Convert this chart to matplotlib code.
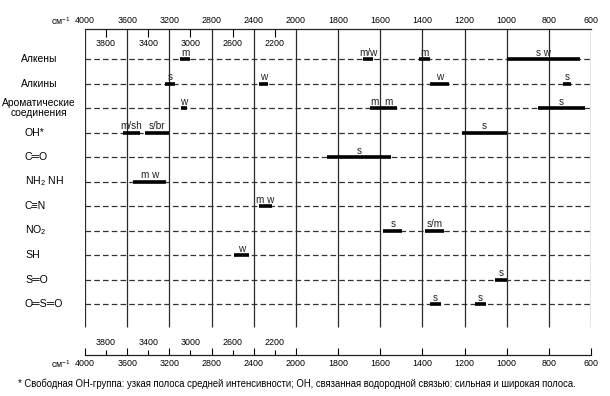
import numpy as np
import matplotlib
matplotlib.use("Agg")
import matplotlib.pyplot as plt
from matplotlib.transforms import blended_transform_factory

plt.rcParams['font.family'] = ['Liberation Sans', 'DejaVu Sans']
plt.rcParams['mathtext.fontset'] = 'custom'
plt.rcParams['mathtext.rm'] = 'Liberation Sans'
plt.rcParams['mathtext.it'] = 'Liberation Sans:italic'

# группы
groups = ["Алкены", "Алкины", "Ароматические\nсоединения", "OH*", "C═O",
          "NH$_2$ NH", "C≡N", "NO$_2$", "SH", "S═O", "O═S═O"]

# полосы поглощения: строка, начало, конец (см-1), интенсивность
band_row = [0, 0, 0, 0,
            1, 1, 1, 1,
            2, 2, 2, 2,
            3, 3, 3,
            4, 5, 6, 7, 7, 8, 9, 10, 10]
band_hi = [3095, 1680, 1415, 1000,
           3240, 2350, 1365, 735,
           3090, 1650, 1600, 850,
           3640, 3430, 1210,
           1850, 3540, 2350, 1585, 1385, 2590, 1055, 1365, 1150]
band_lo = [3000, 1635, 1365, 650,
           3145, 2260, 1275, 695,
           3030, 1600, 1520, 630,
           3480, 3200, 1000,
           1550, 3230, 2230, 1495, 1295, 2440, 1000, 1310, 1100]
band_txt = ["m", "m/w", "m", "s w",
            "s", "w", "w", "s",
            "w", "m", "m", "s",
            "m/sh", "s/br", "s",
            "s", "m w", "m w", "s", "s/m", "w", "s", "s", "s"]

major_wn = [4000, 3600, 3200, 2800, 2400, 2000, 1800, 1600, 1400, 1200, 1000, 800, 600]
minor_wn = [3800, 3400, 3000, 2600, 2200]

footnote = ("* Свободная OH-группа: узкая полоса средней интенсивности; "
            "OH, связанная водородной связью: сильная и широкая полоса.")


# шкала: 400 см-1 на деление выше 2000, 200 см-1 ниже
def fwd(w):
    w = np.asarray(w, dtype=float)
    return np.where(w >= 2000, (w - 4000) / 400, (w - 2000) / 200 - 5)


def inv(v):
    v = np.asarray(v, dtype=float)
    return np.where(v >= -5, 4000 + 400 * v, 2000 + 200 * (v + 5))


W, H = 610, 396
fig = plt.figure(figsize=(W / 100, H / 100), dpi=100)
ax = fig.add_axes([85 / W, 1 - 355 / H, 506 / W, 326 / H])
ax.set_xscale('function', functions=(fwd, inv))
ax.set_xlim(4000, 600)
y_top = (29 - 59) / 24.5
y_bot = (355 - 59) / 24.5
ax.set_ylim(y_bot, y_top)
ax.set_yticks([])
for s in ['left', 'right']:
    ax.spines[s].set_visible(False)
for s in ['top', 'bottom']:
    ax.spines[s].set_linewidth(0.9)
    ax.spines[s].set_color('#222222')

nrows = len(groups)
rows = np.arange(nrows)

# вертикальные линии сетки
ax.vlines(major_wn, y_top, (327 - 59) / 24.5, color='#2a2a2a', lw=0.9)
# пунктир для каждой группы
ax.hlines(rows, 4000, 600, color='#333333', lw=0.9, linestyles=(0, (4.5, 2.5)))

# полосы
for r, hi, lo, t in zip(band_row, band_hi, band_lo, band_txt):
    ax.hlines(r, hi, lo, color='black', lw=2.6)
    xc = float(inv((fwd(hi) + fwd(lo)) / 2))
    ax.text(xc, r - 0.13, t, ha='center', va='baseline', fontsize=7.2, color='#222222')

# подписи групп
tr = blended_transform_factory(fig.transFigure, ax.transData)
for i, g in enumerate(groups):
    if i < 3:
        ax.text(39 / W, i, g, transform=tr, ha='center', va='center', fontsize=7.4,
                linespacing=1.0)
    else:
        ax.text(25 / W, i, g, transform=tr, ha='left', va='center', fontsize=7.6)

# нижняя ось
ax.set_xticks(major_wn, [str(v) for v in major_wn])
ax.set_xticks(minor_wn, [str(v) for v in minor_wn], minor=True)
ax.tick_params(axis='x', which='major', direction='in', length=5, width=0.8,
               pad=3, labelsize=6.4, top=False)
ax.tick_params(axis='x', which='minor', direction='in', length=3.5, width=0.8,
               pad=-12.5, labelsize=6.4, top=False)

# верхняя ось
ax2 = ax.twiny()
ax2.set_xscale('function', functions=(fwd, inv))
ax2.set_xlim(4000, 600)
for s in ax2.spines.values():
    s.set_visible(False)
ax2.set_xticks(major_wn, [str(v) for v in major_wn])
ax2.set_xticks(minor_wn, [str(v) for v in minor_wn], minor=True)
ax2.tick_params(axis='x', which='major', length=0, pad=3, labelsize=6.4)
ax2.tick_params(axis='x', which='minor', direction='in', length=6, width=0.8,
                pad=-13.5, labelsize=6.4)

fig.text(71 / W, 1 - 21 / H, "см$^{-1}$", ha='right', va='center', fontsize=6.4)
fig.text(71 / W, 1 - 364 / H, "см$^{-1}$", ha='right', va='center', fontsize=6.4)
fig.text(18 / W, 1 - 384 / H, footnote, ha='left', va='center', fontsize=6.85)

fig.savefig("out.png", dpi=100)
